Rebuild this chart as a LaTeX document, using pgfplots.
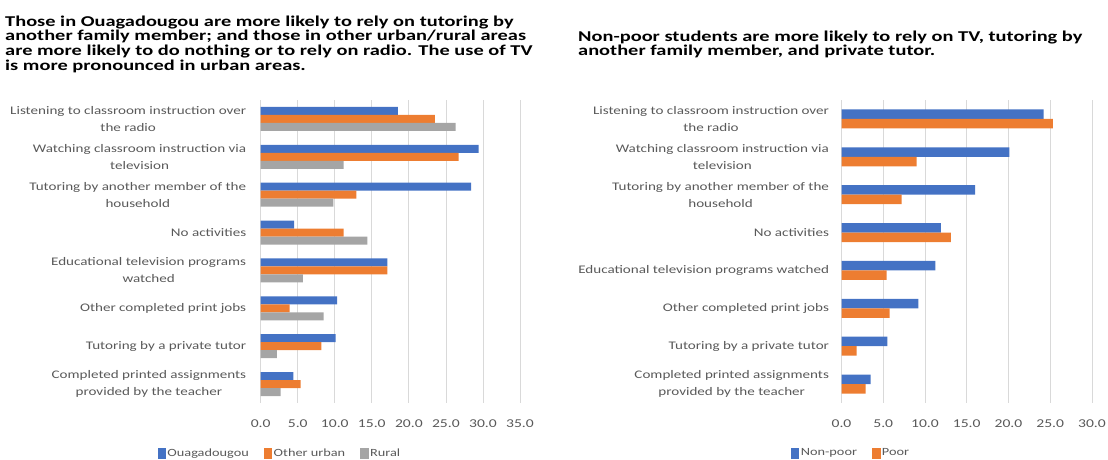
\documentclass[border=0pt]{standalone}
\usepackage{fontspec}
\setmainfont[FakeStretch=1.3]{Carlito}
\newfontfamily\titlefont[FakeStretch=1.36]{Carlito}
\usepackage{pgfplots}
\usepackage{pgfplotstable}
\pgfplotsset{compat=1.18}
\definecolor{cblue}{HTML}{4472C4}
\definecolor{corange}{HTML}{ED7D31}
\definecolor{cgray}{HTML}{A5A5A5}
\definecolor{gridc}{HTML}{D9D9D9}
\definecolor{labc}{HTML}{595959}

\pgfplotstableread{
idx a b c
0 18.5 23.5 26.3
1 29.4 26.7 11.2
2 28.4 12.9 9.8
3 4.5 11.2 14.4
4 17.1 17.1 5.7
5 10.3 3.9 8.5
6 10.1 8.2 2.2
7 4.4 5.4 2.7
}\lefttab

\pgfplotstableread{
idx a b
0 24.2 25.3
1 20.1 9.0
2 16.0 7.2
3 11.9 13.1
4 11.25 5.4
5 9.2 5.75
6 5.5 1.8
7 3.5 2.9
}\righttab

\pgfplotsset{
  mybar/.style={
    scale only axis,
    height=303pt,
    ymin=-0.5, ymax=7.5,
    y dir=reverse,
    ytick={0,...,7},
    xmin=0,
    major tick length=0pt,
    axis line style={draw=none},
    xmajorgrids,
    grid style={draw=gridc, line width=0.8pt},
    /pgf/number format/assume math mode=true,
    /pgf/number format/fixed,
    /pgf/number format/fixed zerofill,
    /pgf/number format/precision=1,
    xticklabel style={font=\fontsize{12}{14}\selectfont, text=labc, yshift=-13.5pt},
    yticklabel style={font=\fontsize{11.6}{17}\selectfont, text=labc, align=center},
    legend columns=-1,
    legend style={draw=none, fill=none, font=\fontsize{11}{13}\selectfont, text=labc,
      /tikz/every even column/.append style={column sep=13pt}},
  }
}

\begin{document}
\begin{tikzpicture}
\useasboundingbox (0,0) rectangle (1108pt,-459pt);

\node[anchor=north west, align=left, font=\fontsize{15}{14.7}\titlefont\bfseries, text=black, inner sep=0pt] at (5pt,-15.5pt)
{Those in Ouagadougou are more likely to rely on tutoring by\\another family member; and those in other urban/rural areas\\are more likely to do nothing or to rely on radio. The use of TV\\is more pronounced in urban areas.};

\node[anchor=north west, align=left, font=\fontsize{15}{14.7}\titlefont\bfseries, text=black, inner sep=0pt] at (578pt,-30.5pt)
{Non-poor students are more likely to rely on TV, tutoring by\\another family member, and private tutor.};

\begin{axis}[mybar,
  at={(260.7pt,-403pt)}, anchor=south west,
  width=259.3pt, xmax=35, xtick={0,5,...,35},
  yticklabel style={xshift=-11pt},
  yticklabels={{Listening to classroom instruction over\\the radio},
    {Watching classroom instruction via\\television},
    {Tutoring by another member of the\\household},
    {No activities},
    {Educational television programs\\watched},
    {Other completed print jobs},
    {Tutoring by a private tutor},
    {Completed printed assignments\\provided by the teacher}},
  legend style={at={(0.074,-0.165)}, anchor=center},
]
\addplot[xbar, bar width=8pt, fill=cblue, draw=none, bar shift=8pt, forget plot] table[x=a, y=idx]{\lefttab};
\addplot[xbar, bar width=8pt, fill=corange, draw=none, bar shift=0pt, forget plot] table[x=b, y=idx]{\lefttab};
\addplot[xbar, bar width=8pt, fill=cgray, draw=none, bar shift=-8pt, forget plot] table[x=c, y=idx]{\lefttab};
\addlegendimage{legend image code/.code={\fill[cblue] (0pt,-5pt) rectangle (7.5pt,5pt);}}
\addlegendimage{legend image code/.code={\fill[corange] (0pt,-5pt) rectangle (7.5pt,5pt);}}
\addlegendimage{legend image code/.code={\fill[cgray] (0pt,-5pt) rectangle (7.5pt,5pt);}}
\legend{Ouagadougou, Other urban, Rural}
\end{axis}

\begin{axis}[mybar,
  at={(841.5pt,-403pt)}, anchor=south west,
  width=250.5pt, xmax=30, xtick={0,5,...,30},
  yticklabel style={xshift=-9pt},
  yticklabels={{Listening to classroom instruction over\\the radio},
    {Watching classroom instruction via\\television},
    {Tutoring by another member of the\\household},
    {No activities},
    {Educational television programs watched},
    {Other completed print jobs},
    {Tutoring by a private tutor},
    {Completed printed assignments\\provided by the teacher}},
  legend style={at={(0.038,-0.165)}, anchor=center},
]
\addplot[xbar, bar width=9.5pt, fill=cblue, draw=none, bar shift=4.75pt, forget plot] table[x=a, y=idx]{\righttab};
\addplot[xbar, bar width=9.5pt, fill=corange, draw=none, bar shift=-4.75pt, forget plot] table[x=b, y=idx]{\righttab};
\addlegendimage{legend image code/.code={\fill[cblue] (0pt,-5pt) rectangle (7.5pt,5pt);}}
\addlegendimage{legend image code/.code={\fill[corange] (0pt,-5pt) rectangle (7.5pt,5pt);}}
\legend{Non-poor, Poor}
\end{axis}
\end{tikzpicture}
\end{document}
